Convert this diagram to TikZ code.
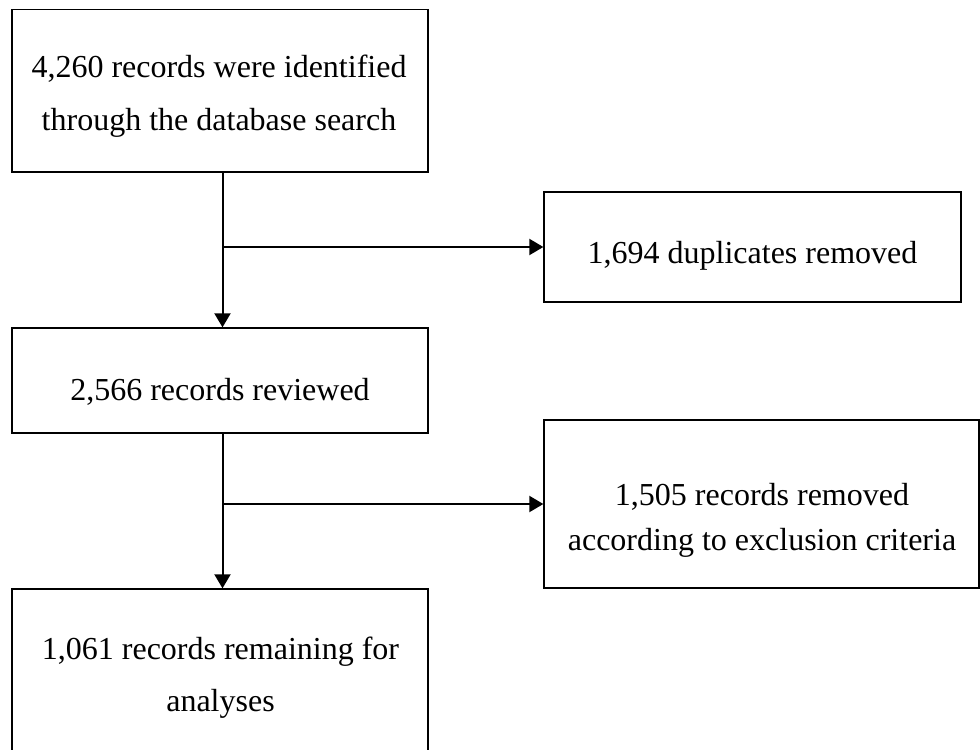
\documentclass[tikz,border=0pt]{standalone}
\usepackage{fontspec}
\setmainfont{Liberation Serif}
\usetikzlibrary{arrows.meta,fit}
\begin{document}
\begin{tikzpicture}[x=0.75pt,y=-0.75pt,
  box/.style={draw, line width=1pt, rectangle, inner sep=0pt},
  txt/.style={font=\fontsize{24}{30}\selectfont, anchor=base, inner sep=0pt},
  conn/.style={line width=1.5pt},
  arr/.style={conn, -{Triangle[length=10.5pt,width=12pt]}}]
\path[use as bounding box, fill=white] (0,0) rectangle (980,749);
\clip (0,0) rectangle (980,749);
% boxes
\node[box, fit={(12,9.5) (428,172)}] (box1) {};
\node[box, fit={(544,192) (961,302)}] (box2) {};
\node[box, fit={(12,328) (428,433)}] (box3) {};
\node[box, fit={(544,420) (979,588)}] (box4) {};
\node[box, fit={(12,589) (428,780)}] (box5) {};
% texts
\node[txt] (t1a) at (219,78) {4,260 records were identified};
\node[txt] (t1b) at (219,130) {through the database search};
\node[txt] (t2) at (752.5,263) {1,694 duplicates removed};
\node[txt] (t3) at (220,400) {2,566 records reviewed};
\node[txt] (t4a) at (762,505) {1,505 records removed};
\node[txt] (t4b) at (762,550) {according to exclusion criteria};
\node[txt] (t5a) at (220.5,659) {1,061 records remaining for};
\node[txt] (t5b) at (220.5,711) {analyses};
% connectors
\coordinate (s) at (222.5,0);
\draw[arr] (box1.south -| s) -- (box3.north -| s);
\draw[arr] (box2.west -| s) -- (box2.west);
\draw[arr] (box3.south -| s) -- (box5.north -| s);
\draw[arr] (box4.west -| s) -- (box4.west);
\end{tikzpicture}
\end{document}
